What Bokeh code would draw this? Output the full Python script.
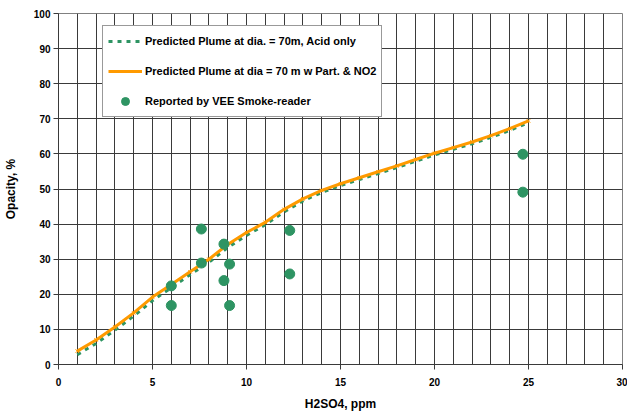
from bokeh.plotting import figure
from bokeh.models import Legend, LegendItem, FixedTicker, SingleIntervalTicker, Range1d
from bokeh.embed import file_html
from bokeh.resources import INLINE

# Data
x_curve = [1, 2, 3, 4, 5, 6, 7, 8, 9, 10, 11, 12, 13, 14, 15, 16, 17, 18, 19, 20, 21, 22, 23, 24, 25]
y_orange = [3.8, 7.0, 10.7, 14.7, 19.2, 22.8, 26.4, 30.0, 34.2, 37.6, 40.5, 44.2, 47.2, 49.6, 51.5,
            53.2, 54.9, 56.6, 58.4, 60.2, 61.8, 63.4, 65.2, 67.2, 69.4]
y_green = [2.8, 6.0, 9.8, 13.8, 18.2, 21.9, 25.6, 29.1, 33.3, 36.8, 39.8, 43.5, 46.6, 49.0, 51.0,
           52.7, 54.4, 56.1, 57.9, 59.7, 61.3, 62.9, 64.7, 66.7, 68.9]
x_obs = [6.0, 6.0, 7.6, 7.6, 8.8, 8.8, 9.1, 9.1, 12.3, 12.3, 24.7, 24.7]
y_obs = [22.4, 16.8, 38.6, 28.9, 34.3, 23.9, 28.6, 16.8, 38.2, 25.8, 59.9, 49.1]
x_ticks = [0, 5, 10, 15, 20, 25, 30]
y_ticks = [0, 10, 20, 30, 40, 50, 60, 70, 80, 90, 100]

FONT = "Liberation Sans"
GREEN = "#2e9463"
ORANGE = "#ff9a00"

p = figure(frame_width=564, frame_height=351, output_backend="svg", toolbar_location=None,
           x_range=Range1d(0, 30), y_range=Range1d(0, 100),
           min_border_left=51, min_border_right=5, min_border_top=13, min_border_bottom=30)
p.background_fill_color = "white"
p.border_fill_color = "white"
p.outline_line_color = "#808080"
p.outline_line_width = 1

# grids
p.xgrid.ticker = SingleIntervalTicker(interval=1)
p.ygrid.ticker = FixedTicker(ticks=y_ticks)
for g in (p.xgrid, p.ygrid):
    g.grid_line_color = "#3a3a3a"
    g.grid_line_width = 1
    g.grid_line_alpha = 1.0

# axes
p.xaxis.ticker = FixedTicker(ticks=x_ticks)
p.yaxis.ticker = FixedTicker(ticks=y_ticks)
for ax in (p.xaxis, p.yaxis):
    ax.axis_line_color = "#3a3a3a"
    ax.major_tick_line_color = "#3a3a3a"
    ax.major_tick_out = 5
    ax.major_tick_in = 0
    ax.minor_tick_line_color = None
    ax.major_label_text_font = FONT
    ax.major_label_text_font_style = "bold"
    ax.major_label_text_font_size = "10px"
    ax.major_label_text_color = "black"
    ax.axis_label_text_font = FONT
    ax.axis_label_text_font_style = "bold"
    ax.axis_label_text_font_size = "12px"
    ax.axis_label_text_color = "black"
p.xaxis.axis_label = "H2SO4, ppm"
p.yaxis.axis_label = "Opacity, %"
p.xaxis.major_label_standoff = 8
p.xaxis.axis_label_standoff = 8
p.yaxis.major_label_standoff = 3
p.yaxis.axis_label_standoff = 13

r_green = p.line(x_curve, y_green, line_color=GREEN, line_width=3, line_dash="4 5")
r_orange = p.line(x_curve, y_orange, line_color=ORANGE, line_width=3)
p.scatter(x_curve, y_orange, marker="x", size=5, line_color=ORANGE, line_width=1)
r_obs = p.scatter(x_obs, y_obs, size=10, fill_color=GREEN, line_color=GREEN)

legend = Legend(items=[
    LegendItem(label="Predicted Plume at dia. = 70m, Acid only", renderers=[r_green]),
    LegendItem(label="Predicted Plume at dia = 70 m w Part. & NO2", renderers=[r_orange]),
    LegendItem(label="Reported by VEE Smoke-reader", renderers=[r_obs]),
], location=(44, 247))
legend.label_text_font = FONT
legend.label_text_font_style = "bold"
legend.label_text_font_size = "11px"
legend.label_text_color = "black"
legend.glyph_width = 34
legend.glyph_height = 20
legend.label_height = 20
legend.label_standoff = 3
legend.spacing = 10
legend.padding = 5
legend.margin = 0
legend.border_line_color = "#333333"
legend.border_line_width = 1
legend.background_fill_color = "white"
legend.background_fill_alpha = 1.0
p.add_layout(legend)

open("out.html", "w").write(file_html(p, INLINE))
